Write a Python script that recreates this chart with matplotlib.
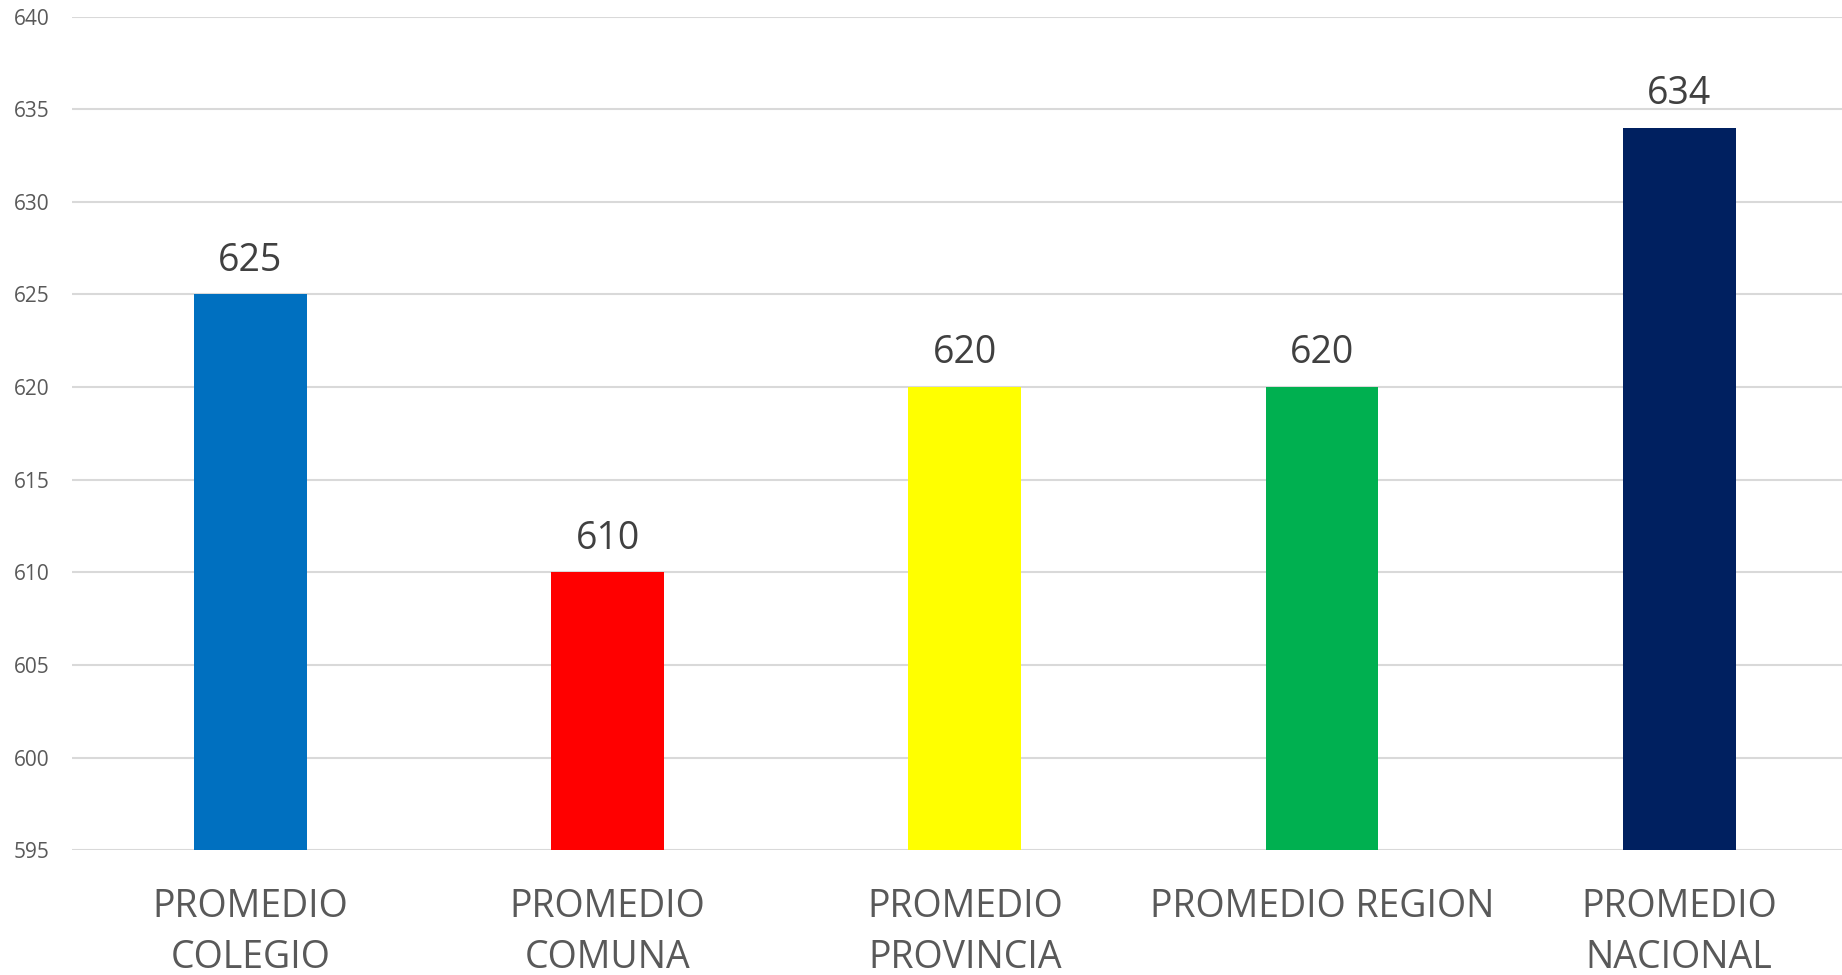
import numpy as np
import matplotlib.pyplot as plt

categories = ['PROMEDIO\nCOLEGIO', 'PROMEDIO\nCOMUNA', 'PROMEDIO\nPROVINCIA',
              'PROMEDIO REGION', 'PROMEDIO\nNACIONAL']
values = [625, 610, 620, 620, 634]
colors = ['#0070C0', '#FF0000', '#FFFF00', '#00B050', '#002060']

plt.rcParams['font.family'] = ['Open Sans', 'DejaVu Sans']

fig = plt.figure(figsize=(18.42, 9.75), dpi=100)
ax = fig.add_axes([0.039, 0.128, 0.9696, 0.855])

x = np.arange(len(values))
base = 595
bars = ax.bar(x, np.array(values) - base, bottom=base, width=0.316, color=colors, zorder=3)

for xi, v in zip(x, values):
    ax.text(xi, v + 0.8, str(v), ha='center', va='bottom', fontsize=27, color='#404040')

ax.set_xlim(-0.5, len(values) - 0.5)
ax.set_ylim(595, 640)
ax.set_yticks(np.arange(595, 641, 5))
ax.yaxis.grid(True, color='#D9D9D9', linewidth=1.5, zorder=0)
ax.set_axisbelow(True)
for s in ax.spines.values():
    s.set_visible(False)

ax.set_xticks(x)
ax.set_xticklabels(categories, fontsize=27, color='#595959', linespacing=1.45)
ax.tick_params(axis='x', length=0, pad=27)
ax.tick_params(axis='y', length=0, pad=16, labelsize=15, labelcolor='#595959')

fig.savefig('out.png', dpi=100)
